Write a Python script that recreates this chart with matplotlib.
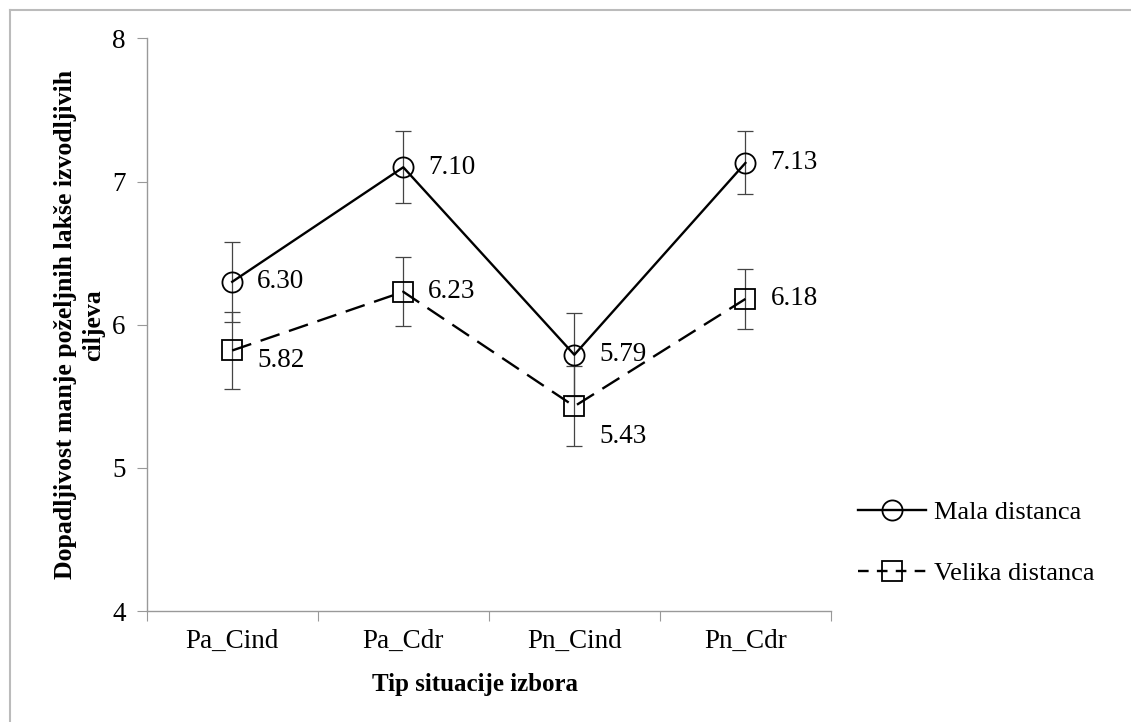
import matplotlib.pyplot as plt
from matplotlib.lines import Line2D

plt.rcParams['font.family'] = ['Liberation Serif', 'DejaVu Serif']

# dati
kategorije = ['Pa_Cind', 'Pa_Cdr', 'Pn_Cind', 'Pn_Cdr']
mala = [6.30, 7.10, 5.79, 7.13]
mala_err = [0.28, 0.25, 0.29, 0.22]
velika = [5.82, 6.23, 5.43, 6.18]
velika_err = [0.27, 0.24, 0.28, 0.21]

# spostamento verticale delle etichette (in pixel)
mala_off = [0, 0, 0, 0]
velika_off = [-10, 0, -30, 0]

fig = plt.figure(figsize=(11.31, 7.22), dpi=100)
ax = fig.add_axes([0.1297, 0.1537, 0.6050, 0.7931])

x = list(range(len(kategorije)))

# barre di errore
ax.errorbar(x, mala, yerr=mala_err, fmt='none', ecolor='#444444',
            elinewidth=0.9, capsize=6, capthick=0.9, zorder=2)
ax.errorbar(x, velika, yerr=velika_err, fmt='none', ecolor='#444444',
            elinewidth=0.9, capsize=6, capthick=0.9, zorder=2)

# linee
ax.plot(x, mala, color='black', lw=1.7, marker='o', markersize=14.5,
        markerfacecolor='none', markeredgecolor='black', markeredgewidth=1.3,
        label='Mala distanca', zorder=3)
ax.plot(x, velika, color='black', lw=1.7, linestyle=(0, (8.5, 4.2)),
        marker='s', markersize=14, markerfacecolor='none',
        markeredgecolor='black', markeredgewidth=1.3,
        label='Velika distanca', zorder=3)

# etichette dei valori
for xi, v, o in zip(x, mala, mala_off):
    ax.annotate(f'{v:.2f}', (xi, v), xytext=(18, o * 0.72),
                textcoords='offset points', va='center', ha='left', fontsize=19.5)
for xi, v, o in zip(x, velika, velika_off):
    ax.annotate(f'{v:.2f}', (xi, v), xytext=(18, o * 0.72),
                textcoords='offset points', va='center', ha='left', fontsize=19.5)

ax.set_xlim(-0.5, 3.5)
ax.set_ylim(4, 8)
ax.set_yticks([4, 5, 6, 7, 8])
ax.set_xticks([-0.5, 0.5, 1.5, 2.5, 3.5])
ax.set_xticklabels([])
ax.set_xticks(x, minor=True)
ax.set_xticklabels(kategorije, minor=True, fontsize=19.5)
ax.tick_params(axis='x', which='minor', length=0, pad=13)
ax.tick_params(axis='x', which='major', length=7, color='#999999', direction='out')
ax.tick_params(axis='y', length=7, color='#999999', direction='out', labelsize=19.5, pad=8)

for s in ['top', 'right']:
    ax.spines[s].set_visible(False)
for s in ['left', 'bottom']:
    ax.spines[s].set_color('#999999')
    ax.spines[s].set_linewidth(1.0)

# titoli degli assi
fig.text(0.42, 0.052, 'Tip situacije izbora', ha='center', va='center',
         fontsize=18, fontweight='bold')
fig.text(0.0705, 0.55, 'Dopadljivost manje poželjnih lakše izvodljivih\nciljeva',
         ha='center', va='center', rotation=90, fontsize=18.5, fontweight='bold',
         linespacing=1.3, multialignment='center')

# legenda
handles = [
    Line2D([], [], color='black', lw=1.7, marker='o', markersize=14.5,
           markerfacecolor='none', markeredgewidth=1.3),
    Line2D([], [], color='black', lw=1.7, linestyle=(0, (4.5, 3.5)), marker='s',
           markersize=14, markerfacecolor='none', markeredgewidth=1.3),
]
fig.legend(handles, ['Mala distanca', 'Velika distanca'], loc='center left',
           bbox_to_anchor=(0.738, 0.248), frameon=False, fontsize=19,
           handlelength=2.55, handletextpad=0.3, labelspacing=1.4)

# cornice
fig.add_artist(Line2D([10 / 1131, 1], [1 - 10 / 722, 1 - 10 / 722],
                      transform=fig.transFigure, color='#bbbbbb', lw=1.5))
fig.add_artist(Line2D([10 / 1131, 10 / 1131], [0, 1 - 10 / 722],
                      transform=fig.transFigure, color='#bbbbbb', lw=1.5))

fig.savefig('out.png', dpi=100)
